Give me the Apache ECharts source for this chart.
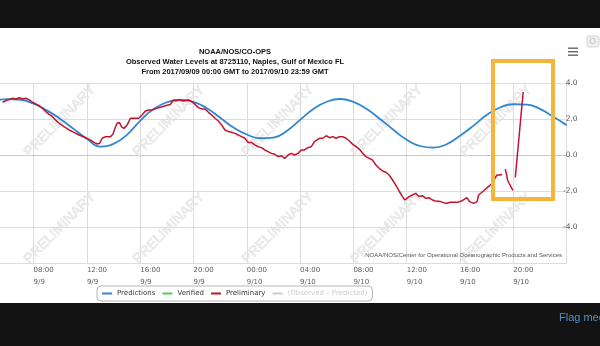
<!DOCTYPE html>
<html>
<head>
<meta charset="utf-8">
<script src="https://cdn.jsdelivr.net/npm/echarts@6/dist/echarts.min.js"></script>
<style>
  html, body { margin: 0; padding: 0; background: #131313; overflow: hidden; width: 600px; height: 346px; }
  /* the chart starts at 9/9 00:00, which sits left of the visible window */
  #chart { position: absolute; left: -76px; top: 0; width: 676px; height: 346px; }
</style>
</head>
<body>
<div id="chart"></div>
<script>
// Hours are counted from 2017/09/09 00:00 GMT; levels are in feet.
const titleLines = [
  'NOAA/NOS/CO-OPS',
  'Observed Water Levels at 8725110, Naples, Gulf of Mexico FL',
  'From 2017/09/09 00:00 GMT to 2017/09/10 23:59 GMT'
];
const creditText = 'NOAA/NOS/Center for Operational Oceanographic Products and Services';
const seriesNames = ['Predictions', 'Verified', 'Preliminary', '(Observed \u2013 Predicted)'];

// x-axis ticks every 4 h, y-axis ticks every 2 ft
const xTickHours = [0, 4, 8, 12, 16, 20, 24, 28, 32, 36, 40, 44, 48];
const dayLabels = ['9/9', '9/10', '9/11'];
const yTicks = [-6, -4, -2, 0, 2, 4];

// Predicted tide, hourly
const predHours = [5, 6, 7, 8, 9, 10, 11, 12, 13, 14, 15, 16, 17, 18, 19, 20, 21, 22, 23, 24, 25, 26,
  27, 28, 29, 30, 31, 32, 33, 34, 35, 36, 37, 38, 39, 40, 41, 42, 43, 44, 45, 46, 47, 48];
const predLevels = [2.98, 3.10, 3.07, 2.85, 2.48, 2.00, 1.45, 0.90, 0.47, 0.62, 1.12, 1.90, 2.55, 2.93,
  3.07, 2.95, 2.60, 2.07, 1.53, 1.14, 0.93, 0.97, 1.34, 1.95, 2.55, 2.96, 3.11, 2.95, 2.55, 2.00, 1.40,
  0.85, 0.50, 0.41, 0.60, 1.07, 1.62, 2.22, 2.64, 2.82, 2.80, 2.56, 2.12, 1.66];

// Preliminary observations, [hour, level]; the sensor record breaks twice near the end
const prelimMain = [
  [5.68, 2.93], [6.06, 3.06], [6.43, 3.15], [6.68, 3.11], [6.93, 3.18], [7.18, 3.11], [7.42, 3.15],
  [7.68, 3.06], [7.92, 2.93], [8.30, 2.78], [8.67, 2.59], [8.92, 2.41], [9.17, 2.26], [9.42, 2.13],
  [9.66, 1.94], [9.92, 1.76], [10.29, 1.57], [10.66, 1.39], [11.04, 1.26], [11.41, 1.11], [11.90, 0.96],
  [12.28, 0.83], [12.53, 0.70], [12.78, 0.61], [12.95, 0.65], [13.15, 0.93], [13.40, 1.02], [13.77, 1.02],
  [13.95, 1.15], [14.15, 1.57], [14.27, 1.76], [14.44, 1.81], [14.59, 1.57], [14.77, 1.48], [15.02, 1.67],
  [15.27, 2.04], [15.39, 2.13], [15.64, 2.04], [15.89, 2.04], [16.14, 2.22], [16.39, 2.44], [16.64, 2.50],
  [16.89, 2.50], [17.39, 2.63], [17.88, 2.74], [18.25, 2.81], [18.51, 3.06], [18.68, 3.00], [18.88, 3.06],
  [19.25, 3.00], [19.63, 3.06], [19.87, 2.96], [20.00, 3.06], [20.12, 2.81], [20.37, 2.63], [20.62, 2.56],
  [20.87, 2.56], [21.12, 2.37], [21.37, 2.22], [21.62, 2.04], [21.87, 1.89], [22.11, 1.67], [22.36, 1.39],
  [22.62, 1.30], [22.86, 1.26], [23.11, 1.20], [23.36, 1.11], [23.61, 1.02], [23.85, 0.93], [24.11, 0.70],
  [24.35, 0.70], [24.60, 0.56], [24.85, 0.46], [25.10, 0.41], [25.35, 0.28], [25.60, 0.19], [25.85, 0.09],
  [26.10, 0.04], [26.35, -0.09], [26.60, -0.04], [26.84, -0.19], [27.10, 0.00], [27.34, 0.09], [27.59, 0.00],
  [27.84, 0.09], [28.09, 0.28], [28.33, 0.28], [28.59, 0.41], [28.84, 0.46], [29.08, 0.74], [29.21, 0.65],
  [29.46, 0.93], [29.71, 0.93], [29.96, 1.07], [30.20, 0.96], [30.46, 1.02], [30.70, 0.93], [30.95, 1.02],
  [31.20, 1.02], [31.45, 0.93], [31.70, 0.78], [31.95, 0.59], [32.20, 0.46], [32.44, 0.33], [32.70, 0.09],
  [32.94, -0.09], [33.19, -0.19], [33.44, -0.28], [33.69, -0.56], [33.94, -0.74], [34.19, -0.89],
  [34.44, -0.96], [34.68, -1.11], [34.94, -1.39], [35.18, -1.67], [35.43, -2.00], [35.68, -2.31],
  [35.86, -2.50], [36.01, -2.44], [36.18, -2.31], [36.43, -2.22], [36.68, -2.13], [36.92, -2.31],
  [37.18, -2.26], [37.43, -2.41], [37.67, -2.37], [37.93, -2.50], [38.17, -2.56], [38.55, -2.59],
  [38.92, -2.69], [39.29, -2.63], [39.82, -2.63], [40.11, -2.56], [40.26, -2.50], [40.52, -2.37],
  [40.72, -2.59], [41.03, -2.69], [41.28, -2.59], [41.40, -2.22], [41.76, -2.00], [42.13, -1.76],
  [42.43, -1.57], [42.65, -1.26], [42.78, -1.11], [42.90, -1.20], [43.03, -1.11], [43.15, -1.07]
];
const prelimBurst = [
  [43.40, -0.78], [43.50, -1.11], [43.57, -1.39], [43.68, -1.57], [43.77, -1.67], [43.87, -1.83], [43.97, -1.96]
];
const prelimSurge = [[44.15, -1.25], [44.74, 3.50]];

const predictions = predHours.map((h, i) => [h, predLevels[i]]);
const preliminary = [].concat(prelimMain, [[43.28, '-']], prelimBurst, [[44.06, '-']], prelimSurge);

function two(n) { return (n < 10 ? '0' : '') + n; }
function timeLabel(h) {
  // labels left of the visible window and the closing 00:00 tick stay blank
  if (xTickHours.indexOf(h) < 0 || h < 8 || h >= 48) return '';
  return two(h % 24) + ':00\n' + dayLabels[Math.floor(h / 24)];
}

// The canvas is shifted 76 px to the left; page-space decorations add this back.
const OX = 76;

const chart = echarts.init(document.getElementById('chart'), null, { renderer: 'canvas' });

const watermarkCols = [60, 169, 278, 387, 496];
const watermarkRows = [121, 228];
const watermarks = [];
watermarkRows.forEach(y => watermarkCols.forEach(x => {
  watermarks.push({
    type: 'text', x: x + OX, y: y, rotation: Math.PI / 4, z: 1, silent: true,
    style: {
      text: 'PRELIMINARY', fontSize: 14, fontFamily: 'Liberation Sans',
      fill: '#ececec', stroke: '#d2d2d2', lineWidth: 0.5,
      align: 'center', verticalAlign: 'middle'
    }
  });
}));

const titleFont = { fontSize: 7.5, fontWeight: 'bold', fontFamily: 'Liberation Sans', fill: '#111', align: 'center', verticalAlign: 'middle' };

chart.setOption({
  animation: false,
  backgroundColor: '#ffffff',
  grid: { left: 0, right: 33.4, top: 83, bottom: 83, containLabel: false },
  xAxis: {
    type: 'value', min: 0, max: 48, interval: 4,
    axisLine: { show: true, lineStyle: { color: '#c8c8c8', width: 1 } },
    axisTick: { show: false },
    splitLine: { show: true, lineStyle: { color: '#dcdcdc', width: 1 } },
    axisLabel: {
      interval: 0, align: 'left', verticalAlign: 'top', margin: 1,
      fontSize: 7, lineHeight: 12, fontFamily: 'DejaVu Sans', color: '#606060',
      formatter: timeLabel
    }
  },
  yAxis: {
    type: 'value', position: 'right', min: yTicks[0], max: yTicks[yTicks.length - 1], interval: 2,
    axisLine: { show: false }, axisTick: { show: false },
    splitLine: { show: true, lineStyle: { color: '#dcdcdc', width: 1 } },
    axisLabel: {
      showMinLabel: false, align: 'right', margin: 11,
      fontSize: 7.5, fontFamily: 'DejaVu Sans', color: '#606060',
      formatter: v => v.toFixed(1)
    }
  },
  legend: {
    data: seriesNames, left: 97 + OX, top: 286,
    icon: 'rect', itemWidth: 10, itemHeight: 2, itemGap: 7,
    padding: [4, 5, 4, 5], borderColor: '#b4b4b4', borderWidth: 1, borderRadius: 4,
    textStyle: { fontSize: 7, fontFamily: 'DejaVu Sans', color: '#333' },
    inactiveColor: '#cccccc',
    selected: { '(Observed \u2013 Predicted)': false }
  },
  series: [
    {
      name: seriesNames[0], type: 'line', data: predictions, smooth: true, showSymbol: false,
      color: '#2f87d3', lineStyle: { width: 1.8, color: '#2f87d3' }, z: 3
    },
    {
      name: seriesNames[1], type: 'line', data: [], showSymbol: false,
      color: '#52cc52', lineStyle: { width: 1.5 }
    },
    {
      name: seriesNames[2], type: 'line', data: preliminary, showSymbol: false, connectNulls: false,
      color: '#c3132e', lineStyle: { width: 1.5, color: '#c3132e' }, z: 4
    },
    {
      name: seriesNames[3], type: 'line', data: [], showSymbol: false,
      color: '#999999', lineStyle: { width: 1.5 }
    }
  ],
  graphic: [].concat(watermarks, [
    { type: 'text', x: 235 + OX, y: 52, z: 10, style: Object.assign({ text: titleLines[0] }, titleFont) },
    { type: 'text', x: 235 + OX, y: 62, z: 10, style: Object.assign({ text: titleLines[1] }, titleFont) },
    { type: 'text', x: 235 + OX, y: 71.5, z: 10, style: Object.assign({ text: titleLines[2] }, titleFont) },
    {
      type: 'text', x: 562 + OX, y: 255, z: 10,
      style: { text: creditText, fontSize: 6, fontFamily: 'Liberation Sans', fill: '#555', align: 'right', verticalAlign: 'middle' }
    },
    // export menu button
    { type: 'rect', z: 10, shape: { x: 568 + OX, y: 47.5, width: 10, height: 1.4 }, style: { fill: '#666' } },
    { type: 'rect', z: 10, shape: { x: 568 + OX, y: 51, width: 10, height: 1.4 }, style: { fill: '#666' } },
    { type: 'rect', z: 10, shape: { x: 568 + OX, y: 54.5, width: 10, height: 1.4 }, style: { fill: '#666' } },
    // zoom-reset button at the edge
    { type: 'rect', z: 10, shape: { x: 587 + OX, y: 36, width: 12, height: 11, r: 1.5 }, style: { fill: '#efefef', stroke: '#d6d6d6', lineWidth: 1 } },
    { type: 'circle', z: 11, shape: { cx: 592.5 + OX, cy: 41, r: 2.6 }, style: { fill: 'none', stroke: '#c4c4c4', lineWidth: 1 } },
    // highlight box around the surge
    {
      type: 'rect', z: 20, shape: { x: 493 + OX, y: 61, width: 60, height: 138 },
      style: { fill: 'none', stroke: '#f5b43c', lineWidth: 4 }
    },
    // page bands
    { type: 'rect', z: 30, shape: { x: 0, y: 0, width: 700, height: 28 }, style: { fill: '#131313' } },
    { type: 'rect', z: 30, shape: { x: 0, y: 303, width: 700, height: 43 }, style: { fill: '#131313' } },
    {
      type: 'text', x: 559 + OX, y: 318, z: 31,
      style: { text: 'Flag media', fontSize: 11, fontFamily: 'Liberation Sans', fill: '#4e90c9', align: 'left', verticalAlign: 'middle' }
    }
  ])
});
</script>
</body>
</html>
